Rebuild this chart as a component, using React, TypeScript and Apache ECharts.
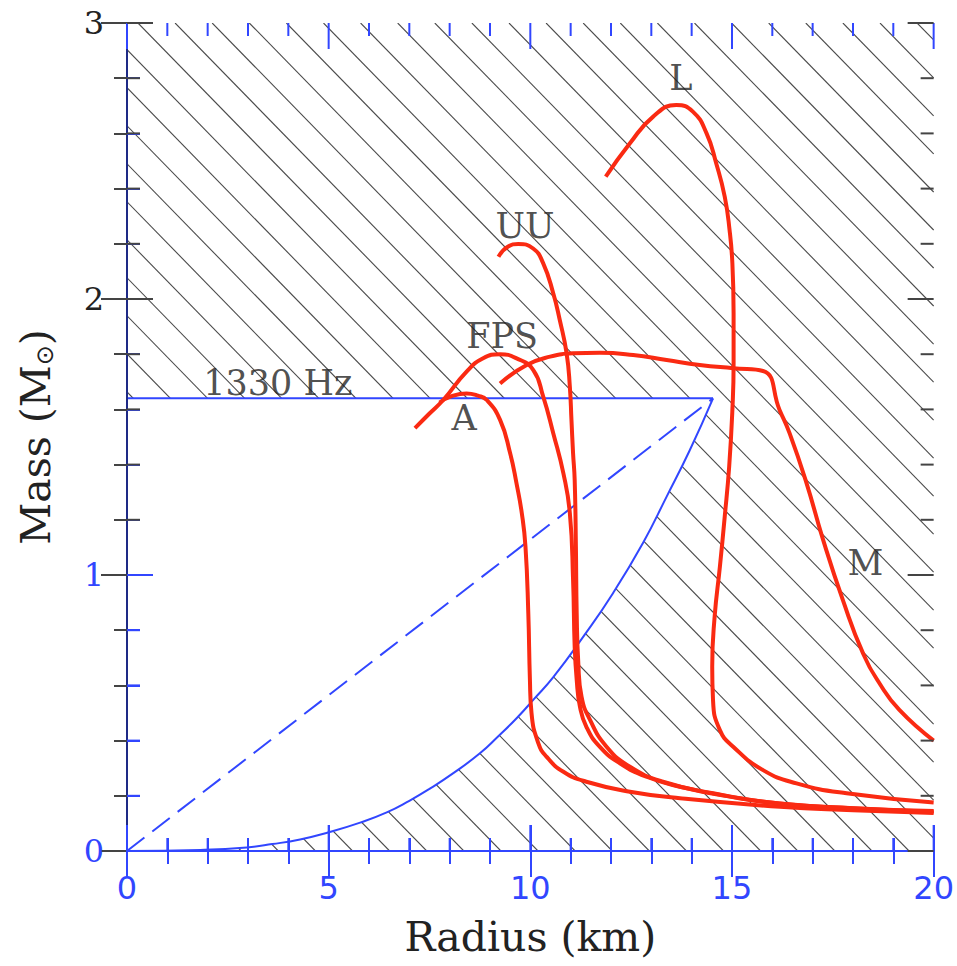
import React, { useEffect, useRef } from "react";
import * as echarts from "echarts";

// ---- axes ----
const X_MIN = 0;
const X_MAX = 20;
const Y_MIN = 0;
const Y_MAX = 3;
const X_INTERVAL = 5;
const Y_INTERVAL = 1;
const X_TICKS = [0, 1, 2, 3, 4, 5, 6, 7, 8, 9, 10, 11, 12, 13, 14, 15, 16, 17, 18, 19, 20];
const X_MAJOR = [0, 5, 10, 15, 20];
const Y_TICKS = [0, 0.2, 0.4, 0.6, 0.8, 1, 1.2, 1.4, 1.6, 1.8, 2, 2.2, 2.4, 2.6, 2.8, 3];
const Y_MAJOR = [0, 1, 2, 3];

// ---- spin limit (1330 Hz) ----
const SPIN_LIMIT_M = 1.64;
const SPIN_LIMIT_R = 14.53;
const limitCurve: [number, number][] = [
  [0, 0], [1.82, 0.004], [2.97, 0.013], [3.6, 0.025], [4.29, 0.042], [5.0, 0.068],
  [5.78, 0.103], [6.44, 0.14], [7.0, 0.182], [7.5, 0.225], [8.1, 0.283], [8.75, 0.354],
  [9.2, 0.415], [9.66, 0.481], [10.1, 0.552], [10.57, 0.63], [11.31, 0.776], [12.05, 0.934],
  [12.8, 1.118], [13.38, 1.284], [13.95, 1.451], [14.53, 1.64],
];
const dashedLine: [number, number][] = [[0, 0], [SPIN_LIMIT_R, SPIN_LIMIT_M]];
const spinLine: [number, number][] = [[0, SPIN_LIMIT_M], [SPIN_LIMIT_R, SPIN_LIMIT_M]];

// ---- equations of state (Radius km, Mass Msun) ----
const eosA: [number, number][] = [
  [7.75, 1.625], [8.05, 1.648], [8.42, 1.658], [8.7, 1.65], [8.92, 1.634], [9.25, 1.562],
  [9.5, 1.441], [9.66, 1.33], [9.79, 1.223], [9.88, 1.103], [9.95, 0.861], [9.99, 0.62],
  [10.03, 0.499], [10.2, 0.39], [10.4, 0.342], [10.82, 0.287], [11.39, 0.251],
  [12.47, 0.215], [13.71, 0.191], [16.19, 0.16], [18, 0.148], [20, 0.138],
];
const eosFPS: [number, number][] = [
  [7.14, 1.532], [7.5, 1.585], [7.84, 1.634], [8.42, 1.737], [8.83, 1.785], [9.25, 1.8],
  [9.66, 1.785], [10.07, 1.743], [10.32, 1.646], [10.57, 1.513], [10.82, 1.368],
  [10.98, 1.224], [11.06, 0.982], [11.1, 0.74], [11.15, 0.62], [11.23, 0.523],
  [11.39, 0.45], [11.72, 0.378], [12.22, 0.318], [12.88, 0.269], [13.71, 0.233],
  [14.94, 0.197], [16.18, 0.172], [18, 0.155], [20, 0.142],
];
const eosUU: [number, number][] = [
  [9.21, 2.153], [9.45, 2.19], [9.7, 2.199], [10.07, 2.183], [10.32, 2.129], [10.57, 2.02],
  [10.73, 1.924], [10.9, 1.803], [10.98, 1.682], [11.02, 1.562], [11.06, 1.441],
  [11.1, 1.344], [11.13, 1.103], [11.15, 0.861], [11.19, 0.68], [11.27, 0.559],
  [11.48, 0.475], [11.89, 0.378], [12.47, 0.305], [13.29, 0.251], [14.53, 0.209],
  [16.18, 0.172], [18, 0.155], [20, 0.145],
];
const eosL: [number, number][] = [
  [11.87, 2.443], [12.47, 2.564], [13.04, 2.66], [13.62, 2.703], [14.03, 2.679],
  [14.37, 2.6], [14.61, 2.491], [14.82, 2.371], [14.94, 2.25], [15.01, 2.129],
  [15.04, 1.948], [15.04, 1.767], [15.01, 1.598], [14.93, 1.392], [14.82, 1.211],
  [14.7, 1.03], [14.57, 0.849], [14.51, 0.668], [14.53, 0.547], [14.7, 0.438],
  [15.03, 0.378], [15.77, 0.293], [16.6, 0.245], [17.84, 0.209], [20, 0.176],
];
const eosM: [number, number][] = [
  [9.25, 1.694], [9.91, 1.761], [10.49, 1.791], [11.06, 1.803], [11.72, 1.805],
  [12.55, 1.797], [13.38, 1.779], [14.2, 1.761], [15.03, 1.749], [15.77, 1.739],
  [16.18, 1.598], [16.43, 1.513], [16.85, 1.332], [17.26, 1.127], [17.75, 0.909],
  [18.25, 0.716], [18.66, 0.607], [19.15, 0.511], [20, 0.4],
];

// ---- annotations ----
const labelNames = ["1330 Hz", "A", "FPS", "UU", "L", "M"];
const labelPos: [number, number][] = [
  [3.74, 1.696], [8.36, 1.569], [9.3, 1.866], [9.87, 2.264], [13.73, 2.8], [18.31, 1.043],
];

const BLUE = "#3146ff";
const RED = "#fa2a12";
const DARK = "#222";
const TICK_DARK = "#444";
const SERIF = "'DejaVu Serif', 'Liberation Serif', serif";
const SANS = "'DejaVu Sans', sans-serif";

const HATCH_STEP = 37.1;
const HATCH_SLOPE = 0.976;
const HATCH_PHASE = 11;
const MAJOR_LEN = 26;
const MINOR_LEN = 13;

export default function App() {
  const ref = useRef<HTMLDivElement>(null);
  useEffect(() => {
    if (!ref.current) return;
    const chart = echarts.init(ref.current, undefined, { renderer: "svg" });

    const redSeries = (name: string, data: [number, number][]) => ({
      type: "line",
      name,
      data,
      smooth: 0.5,
      showSymbol: false,
      symbol: "none",
      z: 5,
      lineStyle: { color: RED, width: 4 },
    });

    const whitePolygon: [number, number][] = [
      [0, SPIN_LIMIT_M],
      ...limitCurve.slice().reverse(),
    ];

    const ticks = (color: string) => ({
      axisTick: { show: true, inside: true, length: MAJOR_LEN, lineStyle: { color, width: 2 } },
      minorTick: { show: true, splitNumber: 5, length: MINOR_LEN, lineStyle: { color, width: 2 } },
      splitLine: { show: false },
      minorSplitLine: { show: false },
    });

    const option: any = {
      animation: false,
      grid: { left: 127, right: 23, top: 23, bottom: 115 },
      xAxis: [
        {
          type: "value",
          min: X_MIN,
          max: X_MAX,
          interval: X_INTERVAL,
          z: 10,
          name: "Radius (km)",
          nameLocation: "middle",
          nameGap: 65,
          nameTextStyle: { fontFamily: SERIF, fontSize: 41, color: DARK },
          axisLine: { lineStyle: { color: BLUE, width: 2 } },
          axisLabel: { fontFamily: SANS, fontSize: 32, color: BLUE, margin: 21 },
          ...ticks(BLUE),
        },
        {
          type: "value",
          position: "top",
          min: X_MIN,
          max: X_MAX,
          interval: X_INTERVAL,
          z: 10,
          axisLine: { lineStyle: { color: BLUE, width: 2 } },
          axisLabel: { show: false },
          ...ticks(BLUE),
        },
      ],
      yAxis: [
        {
          type: "value",
          min: Y_MIN,
          max: Y_MAX,
          interval: Y_INTERVAL,
          z: 10,
          name: "Mass (M{sub|⊙})",
          nameLocation: "middle",
          nameGap: 70,
          nameRotate: 90,
          nameTextStyle: {
            fontFamily: SERIF,
            fontSize: 41,
            color: DARK,
            rich: {
              sub: { fontFamily: SANS, fontSize: 24, color: DARK, verticalAlign: "bottom", padding: [18, 0, 0, 0] },
            },
          },
          axisLine: { lineStyle: { color: BLUE, width: 2 } },
          axisLabel: {
            fontFamily: SERIF,
            fontSize: 32,
            margin: 23,
            color: (v: number) => (v >= 2 ? DARK : BLUE),
          },
          ...ticks(BLUE),
        },
        {
          type: "value",
          position: "right",
          min: Y_MIN,
          max: Y_MAX,
          interval: Y_INTERVAL,
          z: 10,
          axisLine: { lineStyle: { color: "#1e2a86", width: 2 } },
          axisLabel: { show: false },
          ...ticks(TICK_DARK),
        },
      ],
      series: [
        {
          type: "custom",
          name: "hatch",
          silent: true,
          z: 1,
          clip: true,
          data: [[X_MIN, Y_MIN]],
          renderItem: (_p: any, api: any) => {
            const tl = api.coord([X_MIN, Y_MAX]);
            const br = api.coord([X_MAX, Y_MIN]);
            const left = tl[0], top = tl[1], right = br[0], bottom = br[1];
            const h = bottom - top;
            const phase = left + HATCH_PHASE;
            const lowest = left - h * HATCH_SLOPE;
            const start = phase - Math.ceil((phase - lowest) / HATCH_STEP) * HATCH_STEP;
            const children: any[] = [];
            for (let x0 = start; x0 <= right; x0 += HATCH_STEP) {
              const y1 = Math.max(top, top + (left - x0) / HATCH_SLOPE);
              const y2 = Math.min(bottom, top + (right - x0) / HATCH_SLOPE);
              if (y2 <= y1) continue;
              children.push({
                type: "line",
                shape: { x1: x0 + (y1 - top) * HATCH_SLOPE, y1, x2: x0 + (y2 - top) * HATCH_SLOPE, y2 },
                style: { stroke: "#4a4a4a", lineWidth: 1.1 },
              });
            }
            return { type: "group", children };
          },
        },
        {
          type: "custom",
          name: "allowed",
          silent: true,
          z: 2,
          data: [[X_MIN, Y_MIN]],
          renderItem: (_p: any, api: any) => ({
            type: "polygon",
            shape: { points: whitePolygon.map((p) => api.coord(p)) },
            style: { fill: "#ffffff", stroke: "none" },
          }),
        },
        {
          type: "line",
          name: "limit",
          data: limitCurve,
          smooth: 0.5,
          showSymbol: false,
          symbol: "none",
          z: 3,
          lineStyle: { color: BLUE, width: 2 },
        },
        {
          type: "line",
          name: "dashed",
          data: dashedLine,
          showSymbol: false,
          symbol: "none",
          z: 3,
          lineStyle: { color: BLUE, width: 2, type: [22, 10] },
        },
        {
          type: "line",
          name: "spin",
          data: spinLine,
          showSymbol: false,
          symbol: "none",
          z: 3,
          lineStyle: { color: BLUE, width: 2 },
        },
        redSeries("A", eosA),
        redSeries("FPS", eosFPS),
        redSeries("UU", eosUU),
        redSeries("L", eosL),
        redSeries("M", eosM),
        {
          type: "scatter",
          name: "labels",
          silent: true,
          z: 6,
          symbolSize: 1,
          itemStyle: { color: "rgba(0,0,0,0)" },
          data: labelNames.map((n, i) => ({ name: n, value: labelPos[i] })),
          label: {
            show: true,
            position: "inside",
            formatter: "{b}",
            fontFamily: SERIF,
            fontSize: 35,
            color: DARK,
          },
        },
      ],
    };
    chart.setOption(option);

    // frame ticks redrawn on top, placed through the chart's own scales
    const toPx = (pt: [number, number]) =>
      chart.convertToPixel({ xAxisIndex: 0, yAxisIndex: 0 }, pt) as number[];
    const isMajor = (v: number, majors: number[]) => majors.some((m) => Math.abs(m - v) < 1e-6);
    const tickEls: any[] = [];
    const addTick = (p: number[], dx: number, dy: number, color: string) => {
      tickEls.push({
        type: "line",
        silent: true,
        z: 100,
        shape: { x1: p[0], y1: p[1], x2: p[0] + dx, y2: p[1] + dy },
        style: { stroke: color, lineWidth: 2 },
      });
    };
    X_TICKS.forEach((v) => {
      const len = isMajor(v, X_MAJOR) ? MAJOR_LEN : MINOR_LEN;
      addTick(toPx([v, Y_MIN]), 0, -len, BLUE);
      addTick(toPx([v, Y_MAX]), 0, len, BLUE);
    });
    Y_TICKS.forEach((v) => {
      const len = isMajor(v, Y_MAJOR) ? MAJOR_LEN : MINOR_LEN;
      addTick(toPx([X_MIN, v]), len, 0, v > 1.01 ? TICK_DARK : BLUE);
      addTick(toPx([X_MAX, v]), -len, 0, TICK_DARK);
    });
    chart.setOption({ graphic: { elements: tickEls } });

    return () => chart.dispose();
  }, []);
  return (
    <div
      ref={ref}
      style={{ position: "absolute", left: 0, top: 0, width: 957, height: 966, background: "#fff" }}
    />
  );
}
